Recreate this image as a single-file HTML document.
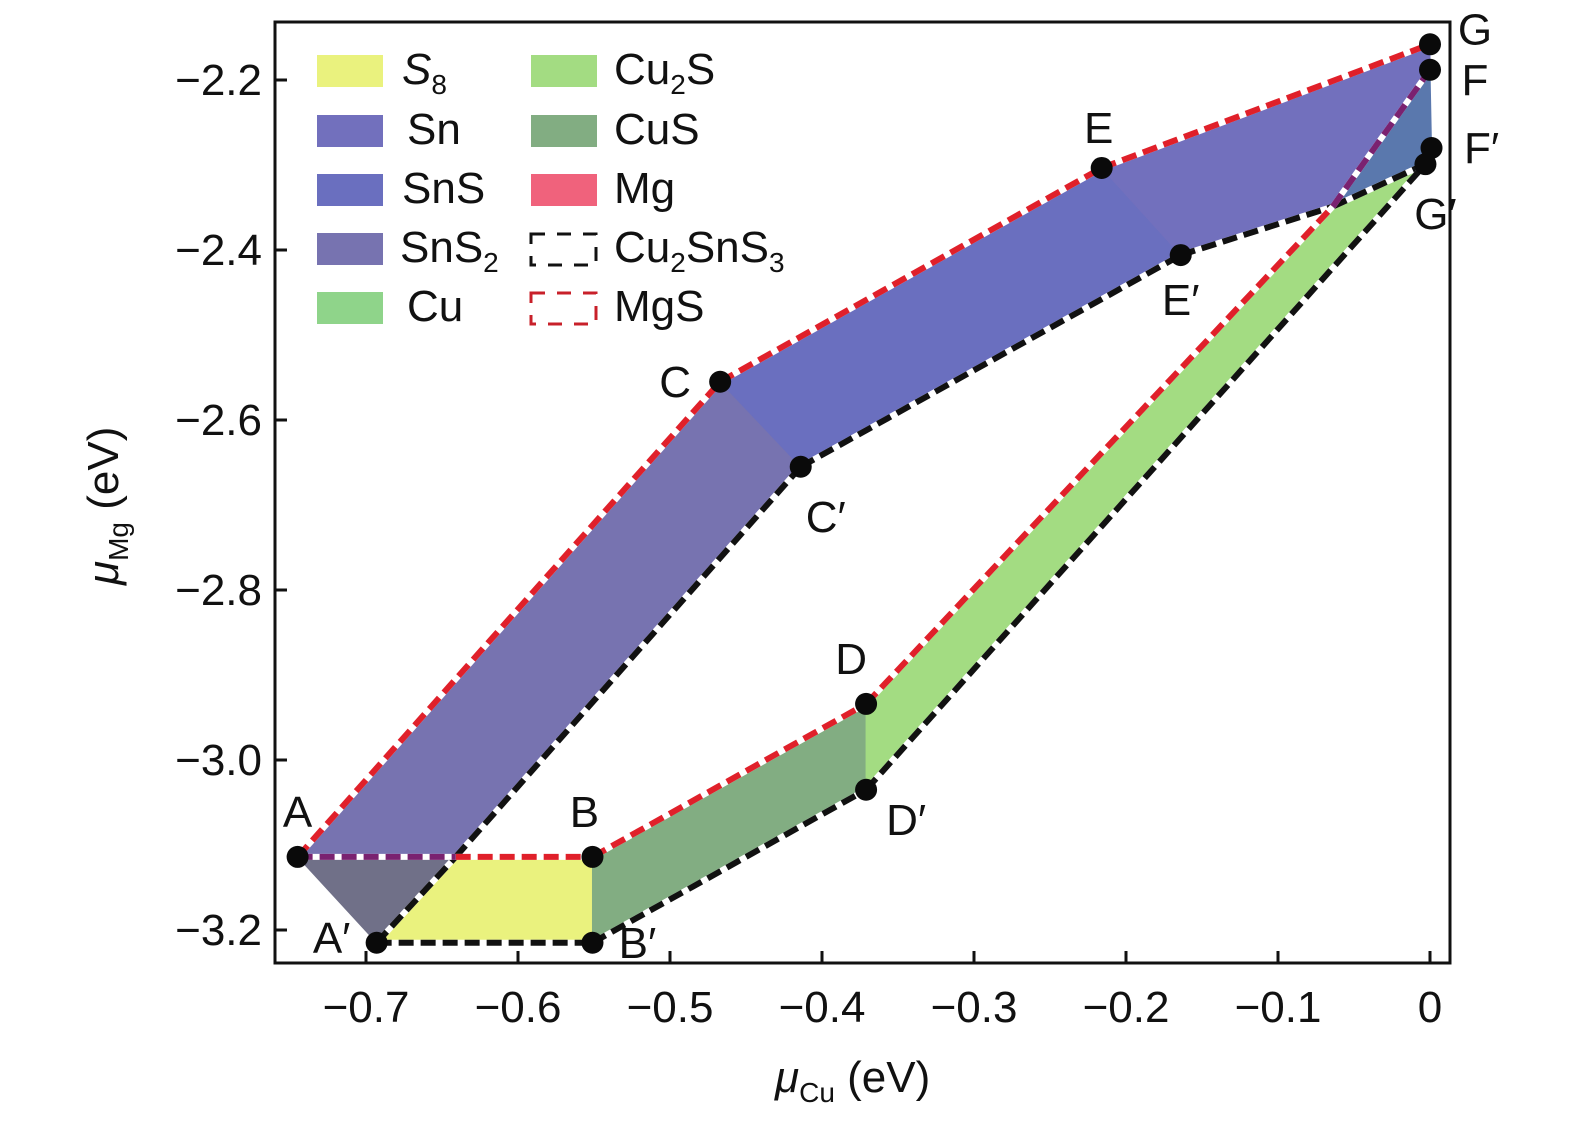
<!DOCTYPE html>
<html><head><meta charset="utf-8"><style>
body{margin:0;background:#fff}
svg text{font-family:"Liberation Sans","DejaVu Sans",sans-serif;fill:#111}
</style></head><body>
<svg id="chart" width="1575" height="1120" xmlns="http://www.w3.org/2000/svg"></svg>
<script>
// data (eV)
const xTicks=[-0.7,-0.6,-0.5,-0.4,-0.3,-0.2,-0.1,0];
const xTickLabels=["−0.7","−0.6","−0.5","−0.4","−0.3","−0.2","−0.1","0"];
const yTicks=[-2.2,-2.4,-2.6,-2.8,-3.0,-3.2];
const yTickLabels=["−2.2","−2.4","−2.6","−2.8","−3.0","−3.2"];
const pointNames=["A","A'","B","B'","C","C'","D","D'","E","E'","F","F'","G","G'","P1","Q"];
const pointX=[-0.745,-0.693,-0.551,-0.551,-0.467,-0.414,-0.371,-0.371,-0.216,-0.164,0,0.001,0,-0.003,-0.641,-0.064];
const pointY=[-3.114,-3.215,-3.114,-3.215,-2.555,-2.655,-2.934,-3.035,-2.3035,-2.406,-2.188,-2.28,-2.158,-2.299,-3.114,-2.349];
const regionNames=["SnS2","SnS2-gray","S8","CuS","Cu2S","SnS","Sn","Sn-blue"];
const regionPolys=[["A","C","C'","P1"],["A","P1","A'"],["P1","B","B'","A'"],["B","D","D'","B'"],["D","Q","G'","D'"],["C","E","E'","C'"],["E","G","F","Q","E'"],["F","F'","G'","Q"]];
const regionColors=["#7773b0","#707088","#eaf27e","#82ad82","#a3dc82","#6a6fbf","#7270bd","#5a78ad"];
const redLines=[["A","C"],["C","E"],["E","G"],["P1","B"],["B","D"],["D","Q"]];
const purpleLines=[["A","P1"],["Q","F"]];
const blackLines=[["A'","P1"],["P1","C'"],["C'","E'"],["E'","Q"],["Q","G'"],["A'","B'"],["B'","D'"],["D'","G'"]];
const labelNames=["A","A'","B","B'","C","C'","D","D'","E","E'","F","F'","G","G'"];
const labelText=["A","A′","B","B′","C","C′","D","D′","E","E′","F","F′","G","G′"];
const labelDx=[0,-45,-8,45,-45,25,-15,40,-3,0,45,50,45,10];
const labelDy=[-30,10,-30,15,15,65,-30,45,-25,60,25,15,0,65];

const L=275,R=1450,T=22,B=963;
const sx=v=>1430+v*1520;
const sy=v=>80-(v+2.2)*850;
const svg=document.getElementById('chart');
const NS="http://www.w3.org/2000/svg";
function mk(t,a,p){const e=document.createElementNS(NS,t);for(const k in a)e.setAttribute(k,a[k]);(p||svg).appendChild(e);return e;}
const P=n=>{const i=pointNames.indexOf(n);return [sx(pointX[i]),sy(pointY[i])];};

regionPolys.forEach((poly,i)=>{
 const e=mk('polygon',{points:poly.map(n=>P(n).join(',')).join(' '),fill:regionColors[i],stroke:regionColors[i],'stroke-width':1});
 
 
});
function dashed(list,color,name){
 list.forEach(([a,b])=>{
  const p=P(a),q=P(b);
  const w=mk('line',{x1:p[0],y1:p[1],x2:q[0],y2:q[1],stroke:'#fff','stroke-width':6});
  
  
  const e=mk('line',{x1:p[0],y1:p[1],x2:q[0],y2:q[1],stroke:color,'stroke-width':6,'stroke-dasharray':'15 7'});
  
  
 });
}
dashed(blackLines,'#111','cu2sns3-boundary');
dashed(redLines,'#e0202a','mgs-boundary');
dashed(purpleLines,'#7a2270','mgs-boundary-overlap');

labelNames.forEach((n,i)=>{
 const p=P(n);
 const c=mk('circle',{cx:p[0],cy:p[1],r:11,fill:'#0a0a0a'});
 
 
 const t=mk('text',{x:p[0]+labelDx[i],y:p[1]+labelDy[i],'font-size':44,'text-anchor':'middle'});
 t.textContent=labelText[i];
 
 
});

const fr=mk('rect',{x:L,y:T,width:R-L,height:B-T,fill:'none',stroke:'#111','stroke-width':3});


xTicks.forEach((v,i)=>{
 const x=sx(v);
 const t=mk('line',{x1:x,y1:B,x2:x,y2:B-12,stroke:'#111','stroke-width':3});
 
 
 const l=mk('text',{x:x,y:1022,'font-size':44,'text-anchor':'middle'});
 l.textContent=xTickLabels[i];
 
 
});
yTicks.forEach((v,i)=>{
 const y=sy(v);
 const t=mk('line',{x1:L,y1:y,x2:L+12,y2:y,stroke:'#111','stroke-width':3});
 
 
 const l=mk('text',{x:262,y:y+15,'font-size':44,'text-anchor':'end'});
 l.textContent=yTickLabels[i];
 
 
});
</script>
<svg width="1575" height="1120" style="position:absolute;left:0;top:0;pointer-events:none" xmlns="http://www.w3.org/2000/svg">
 <text x="775" y="1092" font-size="44"><tspan font-style="italic">μ</tspan><tspan font-size="28" dy="10">Cu</tspan><tspan dy="-10"> (eV)</tspan></text>
 <text transform="translate(118,585) rotate(-90)" font-size="44"><tspan font-style="italic">μ</tspan><tspan font-size="28" dy="10">Mg</tspan><tspan dy="-10"> (eV)</tspan></text>
 <g font-size="44">
  <rect x="317" y="55" width="66" height="32" fill="#eaf27e"/>
  <text x="402" y="84" font-style="italic">S<tspan font-size="28" dy="10" font-style="normal">8</tspan></text>
  <rect x="317" y="115" width="66" height="32" fill="#7270bd"/>
  <text x="407" y="144">Sn</text>
  <rect x="317" y="174" width="66" height="32" fill="#6a6fbf"/>
  <text x="402" y="203">SnS</text>
  <rect x="317" y="233" width="66" height="32" fill="#7773b0"/>
  <text x="400" y="262">SnS<tspan font-size="28" dy="10">2</tspan></text>
  <rect x="317" y="292" width="66" height="32" fill="#8fd48a"/>
  <text x="407" y="321">Cu</text>
  <rect x="531" y="55" width="66" height="32" fill="#a3dc82"/>
  <text x="614" y="84">Cu<tspan font-size="28" dy="10">2</tspan><tspan dy="-10">S</tspan></text>
  <rect x="531" y="115" width="66" height="32" fill="#82ad82"/>
  <text x="614" y="144">CuS</text>
  <rect x="531" y="174" width="66" height="32" fill="#f0627c"/>
  <text x="614" y="203">Mg</text>
  <rect x="531" y="234" width="65" height="31" fill="none" stroke="#111" stroke-width="3" stroke-dasharray="14 12"/>
  <text x="614" y="262">Cu<tspan font-size="28" dy="10">2</tspan><tspan dy="-10">SnS</tspan><tspan font-size="28" dy="10">3</tspan></text>
  <rect x="531" y="293" width="65" height="31" fill="none" stroke="#c8202a" stroke-width="3" stroke-dasharray="14 12"/>
  <text x="614" y="321">MgS</text>
 </g>
</svg>
</body></html>
